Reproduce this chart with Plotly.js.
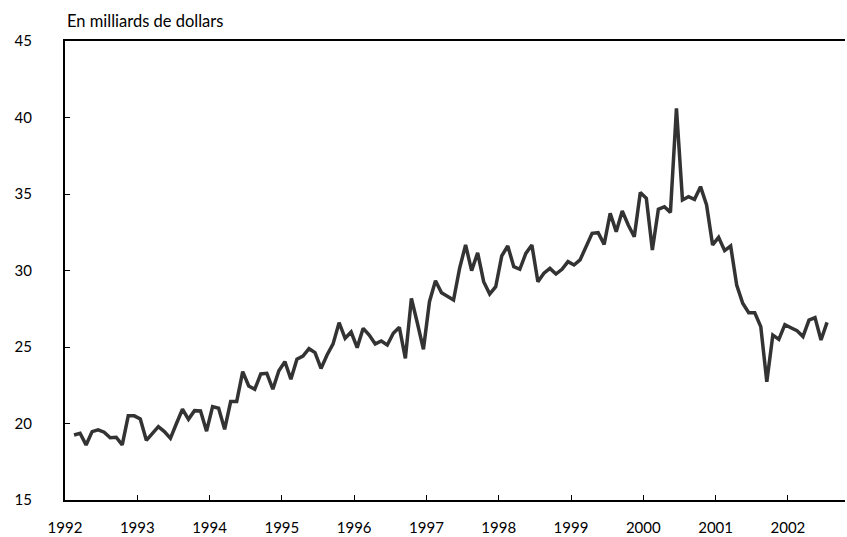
<!DOCTYPE html>
<html>
<head>
<meta charset="utf-8">
<script src="https://cdn.plot.ly/plotly-3.0.1.min.js"></script>
<style>html,body{margin:0;padding:0;background:#fff;}#chart{width:847px;height:537px;}</style>
</head>
<body>
<div id="chart"></div>
<script>
// Monthly series, starting February 1992 (values in billions of dollars)
const startYear = 1992;
const startMonth = 2;
const values = [
  19.25, 19.36, 18.6, 19.47, 19.58, 19.43, 19.07, 19.1, 18.6, 20.5, 20.5,
  20.3, 18.9, 19.36, 19.79, 19.47, 19.03, 20.0, 20.93, 20.27, 20.84, 20.82, 19.5,
  21.1, 21.0, 19.62, 21.43, 21.43, 23.39, 22.45, 22.24, 23.24, 23.28, 22.24, 23.45,
  24.04, 22.89, 24.2, 24.41, 24.89, 24.63, 23.6, 24.48, 25.2, 26.59, 25.57, 25.98,
  24.96, 26.22, 25.78, 25.2, 25.39, 25.13, 25.9, 26.29, 24.26, 28.18, 26.55, 24.85,
  27.96, 29.33, 28.55, 28.33, 28.07, 30.14, 31.67, 29.99, 31.16, 29.27, 28.46, 28.94,
  30.95, 31.6, 30.25, 30.08, 31.12, 31.67, 29.27, 29.82, 30.14, 29.77, 30.08, 30.58,
  30.36, 30.69, 31.56, 32.43, 32.47, 31.71, 33.74, 32.54, 33.89, 32.97, 32.21, 35.1,
  34.72, 31.34, 34.0, 34.17, 33.8, 40.6, 34.61, 34.83, 34.65, 35.48, 34.28, 31.67,
  32.17, 31.3, 31.6, 29.05, 27.86, 27.24, 27.24, 26.33, 22.73, 25.78, 25.5, 26.46,
  26.26, 26.07, 25.68, 26.76, 26.92, 25.46, 26.61
];
const yearTicks = [1992, 1993, 1994, 1995, 1996, 1997, 1998, 1999, 2000, 2001, 2002];
const yTicks = [15, 20, 25, 30, 35, 40, 45];
const unitLabel = "En milliards de dollars";

const xs = values.map((v, i) => startYear + (startMonth - 1 + i + 0.5) / 12);

const trace = {
  x: xs, y: values, type: 'scatter', mode: 'lines',
  line: {color: '#333333', width: 3.5},
  hoverinfo: 'x+y'
};

const fontFam = 'Lato, "Open Sans", sans-serif';
const layout = {
  width: 847, height: 537,
  margin: {l: 65, r: 2, t: 41, b: 37},
  paper_bgcolor: '#ffffff', plot_bgcolor: '#ffffff',
  showlegend: false,
  font: {family: fontFam, size: 15, color: '#000'},
  xaxis: {
    range: [1992, 2002.79],
    tickvals: yearTicks, ticktext: yearTicks.map(String),
    ticks: 'inside', ticklen: 5, tickwidth: 1, tickcolor: '#000',
    showline: true, linecolor: '#000', linewidth: 2, mirror: true,
    showgrid: false, zeroline: false,
    ticklabelstandoff: 13,
    tickfont: {family: fontFam, size: 15, color: '#000'}
  },
  yaxis: {
    range: [15, 45],
    tickvals: yTicks, ticktext: yTicks.map(String),
    ticks: 'inside', ticklen: 5, tickwidth: 1, tickcolor: '#000',
    showline: true, linecolor: '#000', linewidth: 2,
    showgrid: false, zeroline: false,
    ticklabelstandoff: 28,
    tickfont: {family: fontFam, size: 15, color: '#000'}
  },
  annotations: [{
    text: unitLabel, xref: 'paper', yref: 'paper', x: 0, y: 1,
    xanchor: 'left', yanchor: 'bottom', yshift: 8, showarrow: false,
    font: {family: fontFam, size: 16.5, color: '#000'}
  }]
};

Plotly.newPlot('chart', [trace], layout, {displayModeBar: false, staticPlot: true});
</script>
</body>
</html>
